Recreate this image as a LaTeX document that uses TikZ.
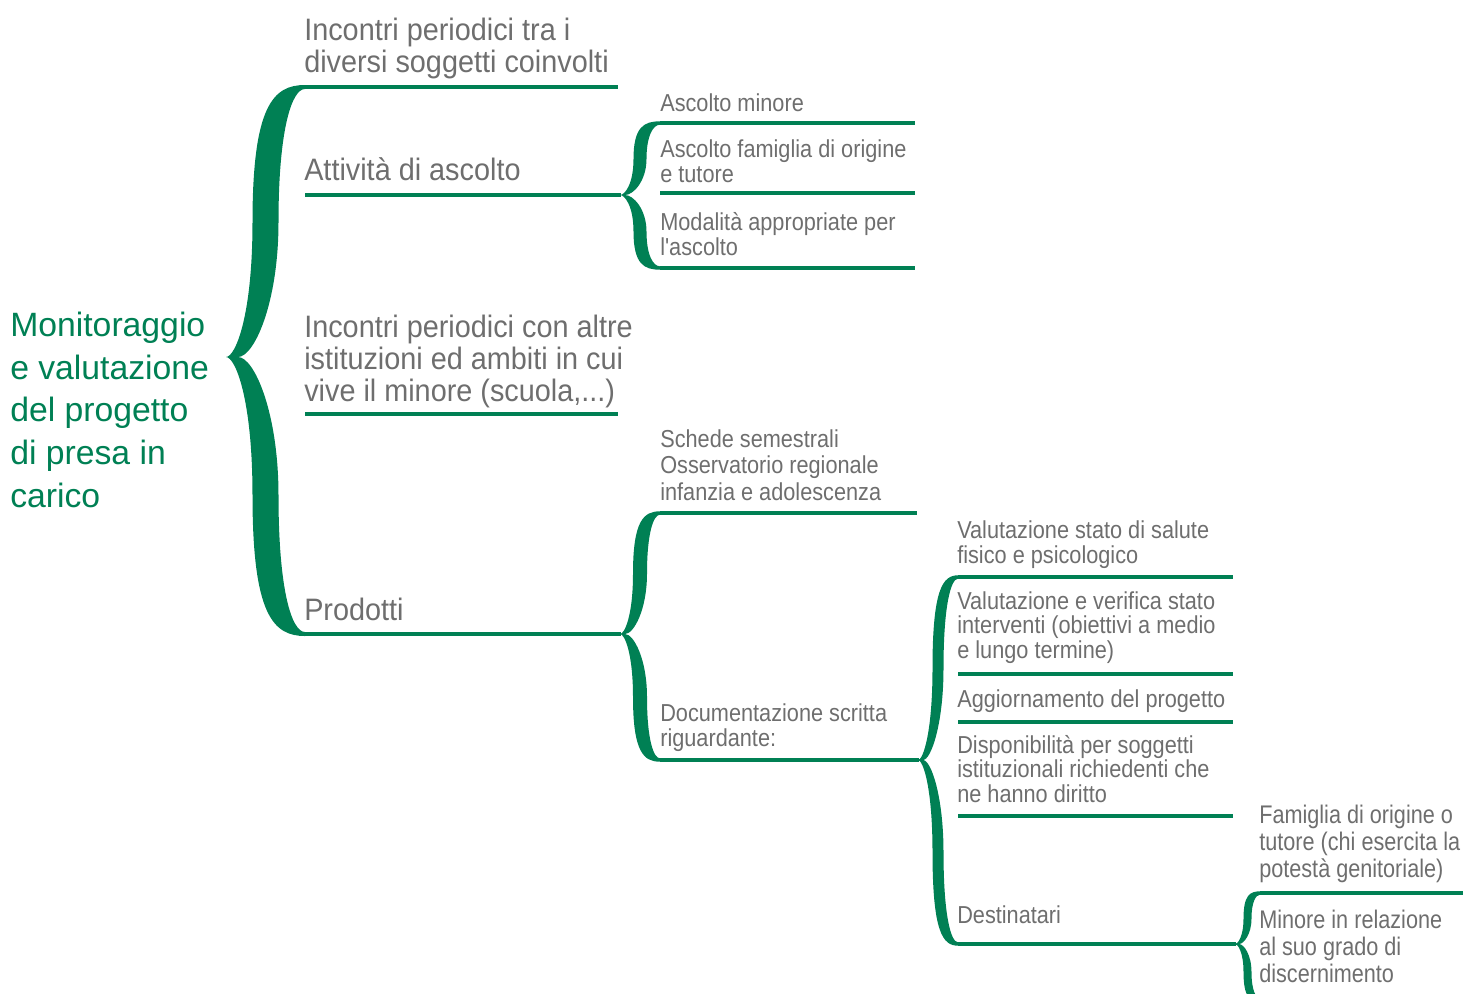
\documentclass[tikz,border=0pt]{standalone}
\usepackage{fontspec}
\setmainfont{Liberation Sans}
\newfontfamily\fRoot{Liberation Sans}
\newfontfamily\fOne{Liberation Sans}[FakeStretch=0.93]
\newfontfamily\fTwo{Liberation Sans}[FakeStretch=0.885]
\newfontfamily\fFour{Liberation Sans}[FakeStretch=0.85]
\definecolor{grn}{RGB}{0,128,84}
\definecolor{txt}{RGB}{110,110,110}
\tikzset{
  brc/.style={fill=grn},
  ulone/.style={draw=grn,line width=3pt},
  ultwo/.style={draw=grn,line width=2.55pt},
  rootlbl/.style={anchor=base west,inner sep=0pt,align=left,text=grn,font=\fRoot\fontsize{25.3}{31.9}\selectfont},
  lone/.style={anchor=base west,inner sep=0pt,align=left,text=txt,font=\fOne\fontsize{23.25}{24}\selectfont},
  ltwo/.style={anchor=base west,inner sep=0pt,align=left,text=txt,font=\fTwo\fontsize{18.4}{18.3}\selectfont},
  ltwob/.style={ltwo,font=\fTwo\fontsize{18.4}{19.8}\selectfont},
  lfour/.style={anchor=base west,inner sep=0pt,align=left,text=txt,font=\fFour\fontsize{19.1}{19.9}\selectfont},
}
% #1 xt, #2 ym, #3 xe, #4 yt, #5 yb, #6 spine width, #7 tip width, #8 half line width
\newcommand\mybrace[8]{%
\pgfmathsetmacro\bxs{(#1+#3)/2}%
\pgfmathsetmacro\bxL{\bxs-#6/2}%
\pgfmathsetmacro\bxR{\bxs+#6/2}%
\pgfmathsetmacro\bya{(#4+#2)/2}%
\pgfmathsetmacro\byb{(#2+#5)/2}%
\pgfmathsetmacro\bta{#4-#8}%
\pgfmathsetmacro\btb{#4+#8}%
\pgfmathsetmacro\bba{#5+#8}%
\pgfmathsetmacro\bbb{#5-#8}%
\pgfmathsetmacro\cLx{#3-0.6*(#3-\bxL)}%
\pgfmathsetmacro\cRx{#3-0.5*(#3-\bxR)}%
\pgfmathsetmacro\cT{#1+0.35*(\bxL-#1)}%
\pgfmathsetmacro\cTR{#1+#7+0.4*(\bxR-#1-#7)}%
\pgfmathsetmacro\yA{\bta+0.15*(\bya-#4)}%
\pgfmathsetmacro\yB{\bya+0.7*(#2-\bya)}%
\pgfmathsetmacro\yC{\byb-0.7*(\byb-#2)}%
\pgfmathsetmacro\yD{\bba-0.15*(#5-\byb)}%
\pgfmathsetmacro\yE{\bbb-0.3*(#5-\byb)}%
\pgfmathsetmacro\yF{\byb-0.6*(\byb-#2)}%
\pgfmathsetmacro\yG{\bya+0.6*(#2-\bya)}%
\pgfmathsetmacro\yH{\btb+0.3*(\bya-#4)}%
\pgfmathsetmacro\xN{#1+#7}%
\fill[brc] (#3,\bta) .. controls (\cLx,\bta) and (\bxL,\yA) .. (\bxL,\bya)
 .. controls (\bxL,\yB) and (\cT,#2) .. (#1,#2)
 .. controls (\cT,#2) and (\bxL,\yC) .. (\bxL,\byb)
 .. controls (\bxL,\yD) and (\cLx,\bba) .. (#3,\bba)
 -- (#3,\bbb)
 .. controls (\cRx,\bbb) and (\bxR,\yE) .. (\bxR,\byb)
 .. controls (\bxR,\yF) and (\cTR,#2) .. (\xN,#2)
 .. controls (\cTR,#2) and (\bxR,\yG) .. (\bxR,\bya)
 .. controls (\bxR,\yH) and (\cRx,\btb) .. (#3,\btb)
 -- cycle;%
}
\begin{document}
\begin{tikzpicture}[x=0.75pt,y=-0.75pt]
\useasboundingbox (0,0) rectangle (1463,993);
\begin{scope}
\clip (0,0) rectangle (1463,993);
% braces
\mybrace{226}{357}{305}{87}{634}{26}{12}{2}
\mybrace{620}{195}{660}{123}{268}{13}{5}{1.7}
\mybrace{620}{634}{660}{513}{760}{14}{5}{1.7}
\mybrace{918}{760}{958}{577}{944}{11}{5}{1.7}
\mybrace{1235}{944}{1260}{893}{1000}{8}{4}{1.7}
\end{scope}
% root
\node[rootlbl] (root) at (10,507) {Monitoraggio\\e valutazione\\del progetto\\di presa in\\carico};
% level 1
\coordinate (inc1L) at (305,87);  \coordinate (inc1R) at (618,87);
\coordinate (attL) at (305,195);  \coordinate (attR) at (621,195);
\coordinate (inc2L) at (305,414); \coordinate (inc2R) at (618,414);
\coordinate (prodL) at (305,634); \coordinate (prodR) at (621,634);
\draw[ulone] (inc1L) -- (inc1R);
\draw[ulone] (attL) -- (attR);
\draw[ulone] (inc2L) -- (inc2R);
\draw[ulone] (prodL) -- (prodR);
\node[lone] (inc1) at (304,72) {Incontri periodici tra i\\diversi soggetti coinvolti};
\node[lone] (att) at (304,180) {Attività di ascolto};
\node[lone] (inc2) at (304,401) {Incontri periodici con altre\\istituzioni ed ambiti in cui\\vive il minore (scuola,...)};
\node[lone] (prod) at (304,620) {Prodotti};
% level 2
\coordinate (asc1L) at (660,123); \coordinate (asc1R) at (915,123);
\coordinate (asc2L) at (660,193); \coordinate (asc2R) at (915,193);
\coordinate (modL) at (660,268);  \coordinate (modR) at (915,268);
\coordinate (schL) at (660,513);  \coordinate (schR) at (917,513);
\coordinate (docL) at (660,760);  \coordinate (docR) at (919,760);
\draw[ultwo] (asc1L) -- (asc1R);
\draw[ultwo] (asc2L) -- (asc2R);
\draw[ultwo] (modL) -- (modR);
\draw[ultwo] (schL) -- (schR);
\draw[ultwo] (docL) -- (docR);
\node[ltwo] (asc1) at (660,111) {Ascolto minore};
\node[ltwo] (asc2) at (660,182) {Ascolto famiglia di origine\\e tutore};
\node[ltwo] (mod) at (660,255) {Modalità appropriate per\\l'ascolto};
\node[ltwob] (sch) at (660,500) {Schede semestrali\\Osservatorio regionale\\infanzia e adolescenza};
\node[ltwo] (doc) at (660,746) {Documentazione scritta\\riguardante:};
% level 3
\coordinate (val1L) at (958,577); \coordinate (val1R) at (1233,577);
\coordinate (val2L) at (958,674); \coordinate (val2R) at (1233,674);
\coordinate (aggL) at (958,722);  \coordinate (aggR) at (1233,722);
\coordinate (dispL) at (958,816); \coordinate (dispR) at (1233,816);
\coordinate (destL) at (958,944); \coordinate (destR) at (1236,944);
\draw[ultwo] (val1L) -- (val1R);
\draw[ultwo] (val2L) -- (val2R);
\draw[ultwo] (aggL) -- (aggR);
\draw[ultwo] (dispL) -- (dispR);
\draw[ultwo] (destL) -- (destR);
\node[ltwo] (val1) at (957,563) {Valutazione stato di salute\\fisico e psicologico};
\node[ltwo] (val2) at (957,658) {Valutazione e verifica stato\\interventi (obiettivi a medio\\e lungo termine)};
\node[ltwo] (agg) at (957,707) {Aggiornamento del progetto};
\node[ltwo] (disp) at (957,802) {Disponibilità per soggetti\\istituzionali richiedenti che\\ne hanno diritto};
\node[ltwo] (dest) at (957,923) {Destinatari};
% level 4
\coordinate (famL) at (1260,893); \coordinate (famR) at (1463,893);
\draw[ultwo] (famL) -- (famR);
\node[lfour] (fam) at (1259,877) {Famiglia di origine o\\tutore (chi esercita la\\potestà genitoriale)};
\node[lfour] (min) at (1259,982) {Minore in relazione\\al suo grado di\\discernimento};
\end{tikzpicture}
\end{document}
